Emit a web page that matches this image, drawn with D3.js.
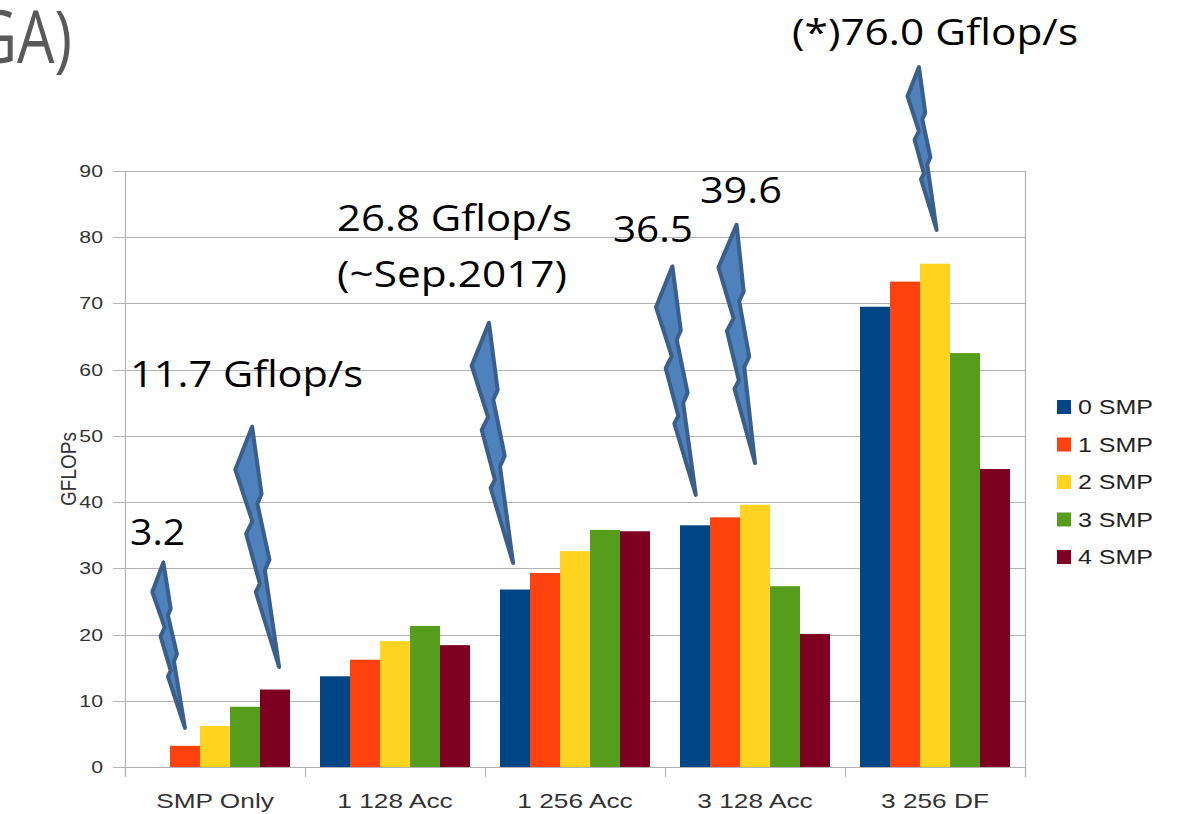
<!DOCTYPE html>
<html><head><meta charset="utf-8">
<script src="https://cdn.jsdelivr.net/npm/d3@7"></script>
<style>body{margin:0;background:#fff}</style>
</head><body>
<svg id="c" width="1183" height="814"></svg>
<script>
// ---- data ----
const categories = ["SMP Only", "1 128 Acc", "1 256 Acc", "3 128 Acc", "3 256 DF"];
const seriesNames = ["0 SMP", "1 SMP", "2 SMP", "3 SMP", "4 SMP"];
const smp0 = [0, 13.7, 26.8, 36.5, 69.5];
const smp1 = [3.2, 16.2, 29.3, 37.7, 73.3];
const smp2 = [6.2, 19.0, 32.6, 39.6, 76.0];
const smp3 = [9.1, 21.3, 35.8, 27.3, 62.5];
const smp4 = [11.7, 18.4, 35.6, 20.1, 45.0];
const yTicks = [0, 10, 20, 30, 40, 50, 60, 70, 80, 90];
const yTitle = "GFLOPs";
const seriesColors = ["#004586", "#ff420e", "#ffd320", "#579d1c", "#7e0021"];
// annotation texts: position in (category units, value units)
const noteTexts = ["3.2", "11.7 Gflop/s", "26.8 Gflop/s", "(~Sep.2017)", "36.5", "39.6", "(*)76.0 Gflop/s"];
const noteX = [0.028, 0.028, 1.178, 1.178, 2.711, 3.194, 3.706];
const noteV = [33.5, 57.4, 80.9, 72.5, 79.3, 85.2, 109.0];
// lightning bolts: top and tip in (category units, value units)
const boltTopX = [0.213, 0.706, 2.022, 3.041, 3.398, 4.411];
const boltTopV = [30.9, 51.4, 67.1, 75.6, 81.9, 105.7];
const boltTipX = [0.333, 0.856, 2.156, 3.171, 3.500, 4.509];
const boltTipV = [5.9, 15.1, 30.8, 41.1, 45.9, 81.1];
const titleFragment = "GA)";

const series = [smp0, smp1, smp2, smp3, smp4];

// ---- layout ----
const svg = d3.select("#c");
const L = 125, R = 1025, T = 171, B = 767;
const SX = 1.25;
const FONT = "'Liberation Sans', Arial, sans-serif";

const x = d3.scaleBand().domain(categories).range([L, R]).paddingInner(0).paddingOuter(0);
const xs = d3.scaleBand().domain(seriesNames).range([0, x.bandwidth()]).paddingInner(0).paddingOuter(0.5);
const xu = d3.scaleLinear().domain([0, categories.length]).range([L, R]);
const y = d3.scaleLinear().domain([0, 90]).range([B, T]);

function stext(g, px, py, str, size, anchor, fill, sx) {
  return g.append("text")
    .attr("transform", `translate(${px},${py}) scale(${sx},1)`)
    .attr("text-anchor", anchor)
    .attr("font-family", FONT)
    .attr("font-size", size)
    .attr("fill", fill)
    .text(str);
}

// title fragment (cut at the left edge, as in the slide)
svg.append("text")
  .attr("transform", "translate(72,63) scale(0.8,1)")
  .attr("text-anchor", "end")
  .attr("font-family", "'Open Sans', 'Noto Sans', sans-serif")
  .attr("font-weight", 400)
  .attr("font-size", 74)
  .attr("fill", "#595959")
  .text(titleFragment);

// gridlines + y ticks
const grid = svg.append("g");
grid.selectAll("line.g").data(yTicks).join("line")
  .attr("x1", L - 12).attr("x2", R)
  .attr("y1", d => Math.round(y(d)) + 0.5).attr("y2", d => Math.round(y(d)) + 0.5)
  .attr("stroke", "#b3b3b3").attr("stroke-width", 1.2);
// axes frame
grid.append("line").attr("x1", L + 0.5).attr("x2", L + 0.5).attr("y1", y(90)).attr("y2", B + 10)
  .attr("stroke", "#b3b3b3").attr("stroke-width", 1.2);
grid.append("line").attr("x1", R + 0.5).attr("x2", R + 0.5).attr("y1", y(90)).attr("y2", B + 10)
  .attr("stroke", "#b3b3b3").attr("stroke-width", 1.2);
const catEdges = categories.map(c => x(c)).concat([R]);
grid.selectAll("line.xt").data(catEdges).join("line")
  .attr("x1", d => d + 0.5).attr("x2", d => d + 0.5)
  .attr("y1", B).attr("y2", B + 10)
  .attr("stroke", "#b3b3b3").attr("stroke-width", 1.2);

yTicks.forEach(t => stext(svg, L - 22, y(t) + 6, String(t), 17, "end", "#333", SX));
categories.forEach(c => stext(svg, x(c) + x.bandwidth() / 2, 808, c, 21, "middle", "#333", SX));

svg.append("text")
  .attr("transform", `translate(76,${(T + B) / 2}) rotate(-90) scale(1,1.2)`)
  .attr("text-anchor", "middle")
  .attr("font-family", FONT).attr("font-size", 19).attr("fill", "#333")
  .text(yTitle);

// bars
const bars = svg.append("g");
series.forEach((vals, si) => {
  bars.selectAll(null).data(vals.map((v, ci) => ({ v, c: categories[ci] })).filter(d => d.v > 0))
    .join("rect")
    .attr("x", d => x(d.c) + xs(seriesNames[si]))
    .attr("width", xs.bandwidth())
    .attr("y", d => y(d.v))
    .attr("height", d => y(0) - y(d.v))
    .attr("fill", seriesColors[si]);
});

// legend
const lg = svg.append("g");
seriesNames.forEach((s, i) => {
  const cy = 407 + i * 37.5;
  lg.append("rect").attr("x", 1057).attr("y", cy - 7).attr("width", 14).attr("height", 14).attr("fill", seriesColors[i]);
  stext(lg, 1078, cy + 7, s, 20, "start", "#222", SX);
});

// lightning bolts
const boltShape = [[0, 0], [-0.090, 0.179], [-0.043, 0.393], [-0.075, 0.446], [-0.041, 0.654], [-0.062, 0.688],
  [0, 1], [-0.014, 0.598], [0.010, 0.554], [-0.014, 0.321], [0.008, 0.280]];
const bg = svg.append("g");
boltTopX.forEach((_, i) => {
  const xt = xu(boltTopX[i]), yt = y(boltTopV[i]);
  const xb = xu(boltTipX[i]), yb = y(boltTipV[i]);
  const H = yb - yt;
  const pts = boltShape.map(([px, py]) => [xt + px * H + py * (xb - xt), yt + py * H]);
  bg.append("path")
    .attr("d", d3.line()(pts) + "Z")
    .attr("fill", "#4f81bd").attr("stroke", "#3a5f8b").attr("stroke-width", 4)
    .attr("stroke-linejoin", "round");
});

// annotation texts
const noteW = [55, 233, 235, 230, 80, 82, 286];
noteTexts.forEach((t, i) => {
  svg.append("text")
    .attr("x", xu(noteX[i])).attr("y", y(noteV[i]))
    .attr("font-family", "'Open Sans', 'Noto Sans', sans-serif")
    .attr("font-size", 37)
    .attr("fill", "#000")
    .attr("textLength", noteW[i]).attr("lengthAdjust", "spacingAndGlyphs")
    .text(t);
});
</script>
</body></html>
